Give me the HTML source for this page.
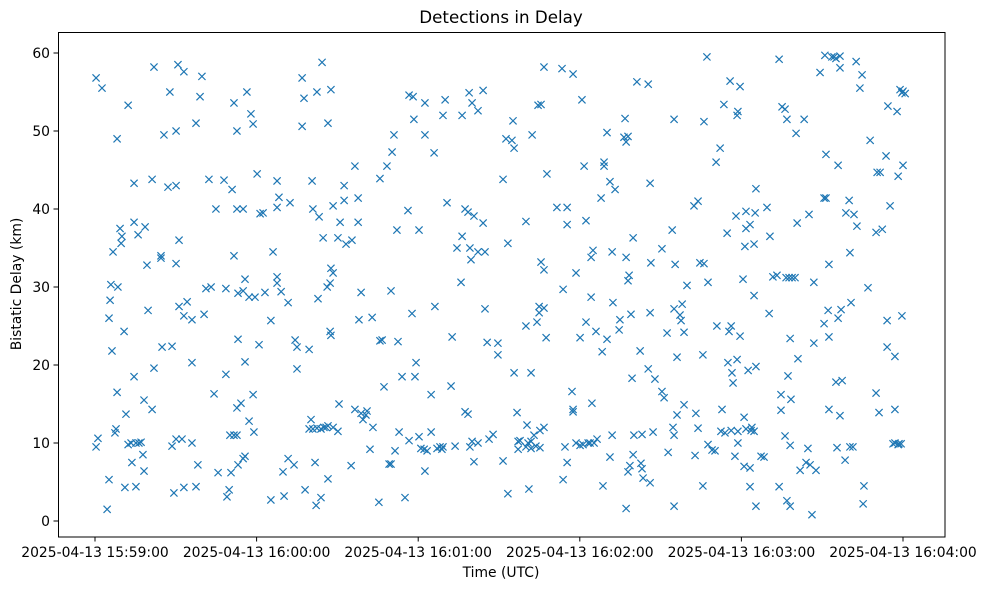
<!DOCTYPE html>
<html><head><meta charset="utf-8"><style>
html,body{margin:0;padding:0;background:#fff;}
svg text{font-family:"DejaVu Sans","Liberation Sans",sans-serif;fill:#000;}
</style></head><body>
<svg id="chart" width="984" height="590" xmlns="http://www.w3.org/2000/svg">
<text x="501" y="23" text-anchor="middle" font-size="16.7">Detections in Delay</text>
<text x="501" y="577" text-anchor="middle" font-size="13.9">Time (UTC)</text>
<text transform="translate(21,284) rotate(-90)" text-anchor="middle" font-size="13.9">Bistatic Delay (km)</text>
<g id="ticks"></g>
<g id="marks"></g>
<rect x="58.5" y="32.5" width="886.5" height="504.5" fill="none" stroke="#000" stroke-width="1"/>
</svg>
<script>
const xTickSeconds = [0, 60, 120, 180, 240, 300];
const xTickLabels = ["2025-04-13 15:59:00","2025-04-13 16:00:00","2025-04-13 16:01:00","2025-04-13 16:02:00","2025-04-13 16:03:00","2025-04-13 16:04:00"];
const yTickValues = [0, 10, 20, 30, 40, 50, 60];
// [seconds after 15:59:00, bistatic delay km]
const detections = [
[0.4,56.8],[0.4,9.5],[1.1,10.6],[2.6,55.5],[4.5,1.5],[5.2,5.3],[5.2,26],[5.6,28.3],[5.9,30.3],[6.3,21.8],[6.7,34.5],[7.4,11.3],[7.8,11.8],[8.2,49],[8.2,16.5],[8.5,30],[9.3,37.5],[9.7,35.6],[10,36.5],[10.8,24.3],[11.5,13.7],[11.1,4.3],[12.3,53.3],[12.3,9.8],[13.4,10],[13.7,7.5],[14.5,43.3],[14.5,38.3],[14.5,18.5],[15.2,10],[15.2,4.4],[16.3,10],[16,36.7],[17.1,10.1],[17.8,8.5],[18.6,37.7],[18.2,15.5],[18.2,6.4],[19.3,32.8],[19.7,27],[21.2,14.3],[21.2,43.8],[21.9,19.6],[21.9,58.2],[24.5,33.7],[24.5,34],[24.9,22.3],[25.6,49.5],[27.1,42.8],[27.8,55],[28.6,22.4],[28.6,9.6],[30.1,10.5],[30.1,43],[30.1,33],[30.1,50],[29.3,3.6],[30.8,58.5],[31.2,36],[31.2,27.5],[32.3,10.5],[33,4.3],[33,57.6],[33,26.3],[34.2,28.1],[36,25.8],[36,20.3],[36,10],[37.5,4.4],[37.5,51],[38.2,7.2],[39.7,57],[39,54.4],[40.5,26.5],[41.2,29.8],[42.3,43.8],[43.1,30],[44.2,16.3],[44.9,40],[45.7,6.2],[47.9,43.7],[48.6,18.8],[48.6,29.8],[49,3.1],[49.8,4],[50.5,6.2],[50.1,11],[50.9,42.5],[51.6,11],[51.6,53.6],[51.6,34],[52.7,11],[52.7,50],[52.7,14.5],[52.7,40],[53.1,23.3],[53.1,29.2],[53.1,7.2],[54.2,15.1],[55,40],[55,8],[55,29.5],[55.7,8.3],[55.7,20.4],[55.7,31],[56.4,55],[57.2,28.7],[57.2,12.8],[57.9,52.2],[58.7,50.9],[58.7,16.2],[59,11.4],[59.4,28.7],[60.2,44.5],[60.9,22.6],[61.3,39.4],[62.4,39.5],[63.1,29.3],[65.3,2.7],[65.3,25.7],[66.1,34.5],[67.6,30.5],[67.6,43.6],[67.6,31.3],[67.6,40.2],[68.3,41.5],[69.1,29.4],[69.8,6.3],[70.2,3.2],[71.7,8],[71.7,28],[72.4,40.8],[73.9,7.2],[74.3,23.2],[75,19.5],[75,22.3],[76.9,56.8],[76.9,50.6],[77.6,54.2],[78,4],[79.5,22],[79.5,11.8],[80.2,13],[80.6,43.6],[80.9,40],[80.9,11.8],[81.7,7.5],[82.1,2],[82.4,55],[82.4,11.9],[82.8,28.5],[83.2,39],[83.9,3],[83.9,11.8],[84.3,58.8],[84.7,36.3],[85,12],[85.8,12],[86.2,30],[86.5,12.2],[86.5,51],[86.5,5.4],[87.3,24.3],[87.3,30.5],[87.6,55.3],[87.6,23.8],[87.6,32.4],[88.4,31.8],[88.4,40.4],[88.4,12],[90.2,11.5],[90.2,36.3],[90.6,15],[91,38.3],[92.5,43],[92.5,41.1],[93.2,35.5],[95.1,7.1],[95.4,36],[96.5,45.5],[96.5,14.3],[97.7,41.4],[97.7,38.3],[98,25.8],[98.8,13.8],[98.8,29.3],[99.5,13],[100.6,13.6],[101,14.1],[102.1,9.2],[102.9,26.1],[103.2,12],[105.4,2.4],[105.8,23.1],[105.8,43.9],[106.6,23.2],[107.3,17.2],[108.4,45.5],[109.2,7.3],[109.9,7.3],[109.9,29.5],[110.3,47.3],[111,49.5],[111.4,9],[112.1,37.3],[112.5,23],[112.9,11.4],[114,18.5],[115.1,3],[116.2,39.8],[116.6,10.3],[116.6,54.6],[117.7,26.6],[118.1,54.4],[118.4,51.5],[119.2,20.3],[118.8,18.5],[120.3,10.8],[120.3,37.3],[121,9.3],[122.2,9.2],[122.5,53.6],[122.5,49.5],[122.5,6.4],[123.3,9],[124.8,11.4],[124.8,16.2],[126.2,27.5],[125.9,47.2],[127,9.3],[128.1,9.5],[128.8,9.2],[129.2,9.5],[129.2,52],[130,54],[130.7,40.8],[132.2,17.3],[132.6,23.6],[133.7,9.6],[134.4,35],[136.3,52],[136.3,36.5],[135.9,30.6],[137.4,14],[137.4,40],[138.5,13.7],[138.5,39.6],[139.2,35],[139.2,9.5],[138.9,54.9],[139.6,33.5],[140.7,39.1],[140.7,7.6],[140,53.6],[140,10.2],[142.2,10],[142.2,34.5],[142.2,52.6],[144.1,55.2],[144.1,38.2],[144.8,27.2],[144.8,34.5],[145.6,22.9],[146.3,10.5],[147.8,11.1],[149.6,21.3],[149.6,22.8],[151.5,43.8],[151.5,7.7],[152.6,49],[153.3,35.6],[153.3,3.5],[154.8,48.8],[155.2,51.3],[155.6,47.8],[156.7,13.9],[155.6,19],[157.1,9.2],[157.1,10.2],[157.8,10.3],[160,9.5],[160,25],[160,38.4],[160.8,10],[161.9,9.3],[161.9,10.2],[161.9,19],[160.4,12.3],[161.1,4.1],[162.3,49.5],[163,11],[163.7,9.6],[164.1,25.5],[164.9,26.7],[164.9,27.5],[164.5,53.3],[165.6,53.4],[165.6,33.2],[165.2,11.6],[165.2,9.4],[166.7,27.3],[166.7,58.2],[166.7,32.2],[166.7,12],[167.5,23.5],[167.8,44.5],
[173.8,5.3],[173.8,29.7],[174.5,9.5],[175.3,7.5],[175.3,38],[175.3,40.2],[171.5,40.2],[173.4,58],[177.5,14],[177.5,14.3],[177.5,57.3],[177.1,16.6],[178.6,31.8],[178.6,10],[180.1,23.5],[180.1,9.7],[181.2,9.8],[180.8,54],[181.6,45.5],[182.3,38.5],[182.3,25.5],[183.1,10],[183.8,10],[184.2,28.7],[184.2,33.8],[185.3,10],[184.5,15.1],[186.4,10.5],[184.9,34.7],[186,24.3],[188.3,21.7],[187.9,41.4],[189,46],[189,45.5],[188.6,4.5],[190.1,49.8],[190.1,23.3],[191.2,43.5],[191.2,8.2],[192.3,28],[193.1,42.5],[192,34.5],[192,11],[194.6,24.5],[194.9,25.8],[196.4,49.2],[197.2,48.6],[197.2,33.8],[197.2,1.6],[196.8,51.6],[197.9,6.3],[197.9,30.8],[197.9,49.3],[198.6,7.1],[198.3,31.5],[199,26.5],[199.4,18.3],[199.8,8.5],[199.8,36.3],[200.1,11],[201.2,56.3],[202.4,21.8],[202.7,7.4],[203.1,11.1],[203.1,6.7],[203.5,5.5],[205.4,19.5],[205.4,56],[206.1,26.7],[206.1,4.9],[206.1,43.3],[206.4,33.1],[207.2,11.4],[207.9,18.2],[210.5,34.9],[210.5,16.6],[211.3,15.8],[212.4,24.1],[212.8,8.8],[214.3,37.3],[215,51.5],[215,27.2],[215,11],[215,1.9],[215.4,32.9],[216.1,13.6],[216.1,21],[214.6,12],[218.7,14.9],[218.7,24.2],[218,27.8],[217.2,26.4],[217.6,25.7],[219.8,30.2],[222.4,40.4],[222.8,8.4],[223.9,41],[223.9,11.9],[223.1,13.8],[224.6,33.1],[226.1,33],[226.1,51.2],[225.7,21.3],[225.7,4.5],[227.2,59.5],[227.6,9.8],[227.6,30.6],[229.1,9.1],[230.2,9],[230.6,46],[230.9,25],[232.1,47.8],[232.4,11.5],[232.8,14.3],[233.5,53.4],[233.9,11.3],[234.7,36.9],[235.8,56.4],[235.4,24.3],[235,20.3],[236.2,11.6],[236.2,25],[236.5,19],[237.6,8.3],[236.9,17.7],[238.7,11.5],[238.7,10],[238.7,52.5],[238.4,20.7],[238.4,52],[238,39.1],[239.5,23.7],[239.5,55.7],[241,13.3],[241,7],[240.6,31],[241.7,11.8],[241.7,37.5],[241.7,39.7],[243.2,6.8],[243.2,38],[243.2,4.4],[243.6,11.6],[241.3,35.2],[242.5,19.3],[243.9,12],[244.7,28.9],[244.7,11.5],[244.7,35.5],[245.4,42.6],[245.4,1.9],[245.4,19.8],[245.1,39.5],[247.3,8.3],[248.4,8.2],[249.5,40.2],[250.3,26.6],[250.6,36.5],[251.7,31.3],[253.2,31.5],[254,59.2],[254,4.4],[255.1,53.1],[254.7,16.2],[254.7,14.2],[256.2,52.8],[256.2,10.9],[256.6,31.2],[257.7,31.2],[256.9,51.5],[256.9,2.6],[257.3,18.6],[258.1,9.7],[258.1,1.9],[258.1,23.4],[258.4,15.6],[258.8,31.2],[259.9,31.2],[260.3,49.7],[260.7,38.2],[261,20.8],[261.8,6.5],[263.3,51.5],[265.1,39.3],[264,7.5],[264.7,9.3],[265.5,7.2],[266.9,30.6],[266.9,22.8],[266.2,0.8],[267.7,6.5],[269.2,57.5],[270.7,41.4],[270.7,25.3],[271.4,41.4],[271.4,47],[271,59.7],[272.5,14.3],[272.5,23.6],[272.5,32.9],[272.2,27],[273.6,59.5],[274.4,59.5],[275.1,17.8],[275.1,59.3],[275.9,45.6],[275.9,26],[276.6,13.5],[276.6,58.1],[276.6,59.6],[275.5,9.4],[277.4,18],[277,27.1],[278.5,7.8],[280.3,9.5],[280.3,34.4],[281.4,9.5],[278.8,39.5],[280,41.1],[280.7,28],[281.8,39.3],[282.9,37.8],[282.6,58.9],[284,55.5],[284.8,57.2],[285.2,2.2],[285.5,4.5],[287,29.9],[287.8,48.8],[290,37],[290,16.4],[290.4,44.7],[291.5,44.7],[291.1,13.9],[292.3,37.4],[293.7,46.8],[294.1,25.7],[294.1,22.3],[294.4,53.2],[295.2,40.4],[296.3,9.9],[297,10],[297,14.3],[297,21.1],[298.2,9.8],[298.2,44.2],[297.8,52.5],[298.9,55.3],[298.5,9.9],[299.6,54.9],[299.6,26.3],[299.3,9.9],[300,55.1],[300,45.6],[300.8,54.8]
];
const timeSec = detections.map(d => d[0]);
const delayKm = detections.map(d => d[1]);

const NS = "http://www.w3.org/2000/svg";
function xScale(t){ return 95 + t * (903 - 95) / 300; }
function yScale(v){ return 521 - v * (521 - 53) / 60; }
const ticks = document.getElementById('ticks');
const marks = document.getElementById('marks');

xTickSeconds.forEach((t, i) => {
  const x = xScale(t);
  const ln = document.createElementNS(NS, 'line');
  
  
  ln.setAttribute('x1', x); ln.setAttribute('x2', x);
  ln.setAttribute('y1', 537); ln.setAttribute('y2', 541.5);
  ln.setAttribute('stroke', '#000');
  ticks.appendChild(ln);
  const tx = document.createElementNS(NS, 'text');
  
  
  tx.setAttribute('x', x); tx.setAttribute('y', 557);
  tx.setAttribute('text-anchor', 'middle');
  tx.setAttribute('font-size', '13.9');
  tx.textContent = xTickLabels[i];
  ticks.appendChild(tx);
});
yTickValues.forEach(v => {
  const y = yScale(v);
  const ln = document.createElementNS(NS, 'line');
  
  
  ln.setAttribute('x1', 53.5); ln.setAttribute('x2', 58.5);
  ln.setAttribute('y1', y); ln.setAttribute('y2', y);
  ln.setAttribute('stroke', '#000');
  ticks.appendChild(ln);
  const tx = document.createElementNS(NS, 'text');
  
  
  tx.setAttribute('x', 50); tx.setAttribute('y', y + 5);
  tx.setAttribute('text-anchor', 'end');
  tx.setAttribute('font-size', '13.9');
  tx.textContent = String(v);
  ticks.appendChild(tx);
});
const s = 3.6;
timeSec.forEach((t, i) => {
  const x = xScale(t), y = yScale(delayKm[i]);
  const p = document.createElementNS(NS, 'path');
  
  
  p.setAttribute('d', `M${x-s},${y-s}L${x+s},${y+s}M${x-s},${y+s}L${x+s},${y-s}`);
  p.setAttribute('stroke', '#1f77b4');
  p.setAttribute('stroke-width', '1.2');
  p.setAttribute('fill', 'none');
  marks.appendChild(p);
});
</script>
</body></html>
